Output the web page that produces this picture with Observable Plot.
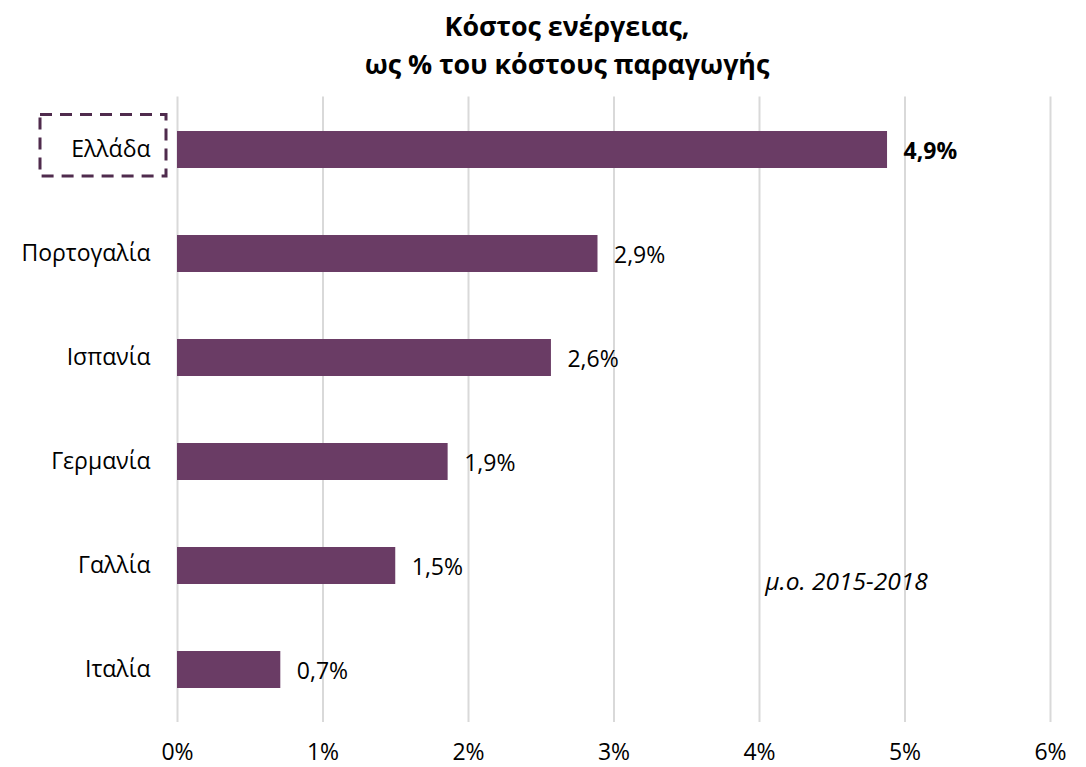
<!DOCTYPE html>
<html>
<head>
<meta charset="utf-8">
<script src="https://cdn.jsdelivr.net/npm/d3@7"></script>
<script src="https://cdn.jsdelivr.net/npm/@observablehq/plot@0.6"></script>
<style>
  body { margin: 0; background: #fff; font-family: "Open Sans", sans-serif; }
  #title { height: 92px; width: 1086px; box-sizing: border-box; padding-top: 7px; text-align: center; font-weight: bold; font-size: 26.8px; line-height: 38px; color: #000; padding-left: 48px; }
  #chart svg { display: block; }
</style>
</head>
<body>
<div id="title">Κόστος ενέργειας,<br>ως % του κόστους παραγωγής</div>
<div id="chart"></div>
<script>
const countries = ["Ελλάδα", "Πορτογαλία", "Ισπανία", "Γερμανία", "Γαλλία", "Ιταλία"];
const values = [4.88, 2.89, 2.57, 1.86, 1.50, 0.71];
const labels = ["4,9%", "2,9%", "2,6%", "1,9%", "1,5%", "0,7%"];
const xTicks = [0, 1, 2, 3, 4, 5, 6];
const highlighted = "Ελλάδα";
const noteText = "μ.ο. 2015-2018";
const noteX = 4.04;
const noteCountry = "Γαλλία";

const data = countries.map((c, i) => ({country: c, value: values[i], label: labels[i]}));
const note = [{x: noteX, country: noteCountry, text: noteText}];
const barColor = "#6a3c65";

const chart = Plot.plot({
  width: 1086,
  height: 675,
  marginLeft: 177,
  marginRight: 36,
  marginTop: 4.5,
  marginBottom: 45,
  style: {fontFamily: "Open Sans, sans-serif", fontSize: "23px", color: "#000", background: "#fff", overflow: "visible"},
  x: {domain: [0, 6], ticks: xTicks, tickFormat: d => d + "%"},
  y: {domain: countries, paddingInner: 0.649, paddingOuter: 0.3245, label: null},
  marks: [
    Plot.gridX(xTicks, {stroke: "#d9d9d9", strokeWidth: 2, strokeOpacity: 1}),
    Plot.axisX({ticks: xTicks, tickFormat: d => d + "%", tickSize: 0, tickPadding: 21.5, label: null, fontSize: 23}),
    Plot.axisY({tickSize: 0, tickPadding: 27, label: null, fontSize: 23}),
    Plot.barX(data, {y: "country", x: "value", fill: barColor}),
    Plot.text(data.filter(d => d.country !== highlighted), {y: "country", x: "value", text: "label", textAnchor: "start", dx: 16, dy: 2, fontSize: 23, fill: "#000"}),
    Plot.text(data.filter(d => d.country === highlighted), {y: "country", x: "value", text: "label", textAnchor: "start", dx: 16, dy: 2, fontSize: 23, fontWeight: "bold", fill: "#000"}),
    Plot.rect([{country: highlighted}], {y: "country", x1: 0, x2: 0, insetLeft: -137, insetRight: 11,
      insetTop: -16.6, insetBottom: -8, fill: "none", stroke: "#4f2b4d", strokeWidth: 3, strokeDasharray: "12,8"}),
    Plot.text(note, {x: "x", y: "country", text: "text", textAnchor: "start", dy: 16, fontStyle: "italic", fontSize: 24.5, fill: "#000"})
  ]
});
document.getElementById("chart").appendChild(chart);
</script>
</body>
</html>
